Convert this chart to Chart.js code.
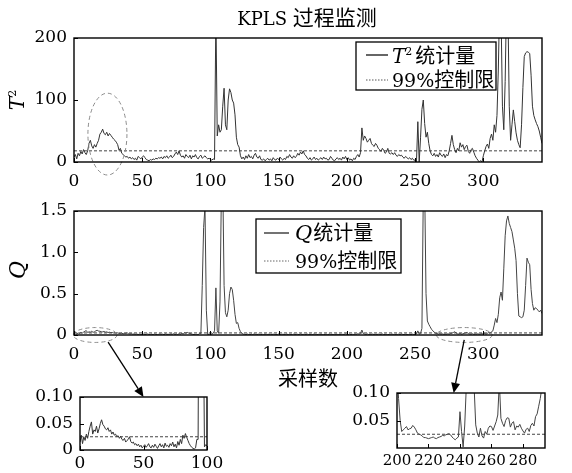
<!DOCTYPE html>
<html><head><meta charset="utf-8">
<script src="https://cdn.jsdelivr.net/npm/chart.js@4.4.1/dist/chart.umd.min.js"></script>
<style>
html,body{margin:0;padding:0;background:#fff;}
#wrap{position:relative;width:572px;height:473px;overflow:hidden;background:#fff;}
#wrap canvas{position:absolute;left:0;top:0;}
</style></head><body>
<div id="wrap">
<canvas id="cT" width="572" height="473"></canvas>
<canvas id="cQ" width="572" height="473"></canvas>
<canvas id="cA" width="572" height="473"></canvas>
<canvas id="cB" width="572" height="473"></canvas>
<canvas id="cO" width="572" height="473"></canvas>
</div>
<script>
// ---------------- data ----------------
const tSquared = [
  8, 12, 5, 14, 10, 17, 13, 20, 15, 12,
  18, 30, 35, 26, 22, 28, 24, 30, 35, 45,
  48, 53, 46, 44, 48, 42, 46, 43, 40, 37,
  35, 32, 28, 19, 22, 14, 12, 10, 8, 9,
  6, 8, 5, 7, 4, 6, 3, 9, 7, 5,
  8, 10, 7, 4, 3, 2, 4, 3, 5, 4,
  6, 5, 7, 6, 8, 5, 9, 7, 10, 6,
  8, 11, 7, 9, 13, 16, 12, 18, 11, 8,
  10, 6, 12, 9, 7, 11, 5, 10, 8, 12,
  7, 5, 9, 11, 6, 8, 10, 7, 5, 6,
  4, 3, 5, 4, 240, 42, 60, 48, 52, 90,
  119, 60, 52, 100, 118, 112, 100, 95, 76, 40,
  28, 24, 10, 5, 8, 4, 10, 6, 12, 7,
  9, 5, 11, 14, 8, 6, 10, 4, 3, 5,
  2, 4, 6, 3, 5, 2, 7, 4, 3, 6,
  4, 8, 5, 3, 6, 4, 9, 7, 12, 8,
  6, 10, 7, 9, 14, 11, 16, 13, 18, 12,
  10, 6, 4, 7, 3, 5, 8, 4, 6, 3,
  5, 7, 4, 8, 5, 6, 3, 4, 9, 6,
  3, 2, 5, 7, 4, 6, 3, 8, 5, 9,
  4, 7, 3, 5, 2, 6, 4, 9, 12, 8,
  15, 55, 35, 42, 38, 32, 35, 38, 30, 27,
  25, 30, 27, 22, 20, 17, 22, 19, 14, 16,
  22, 14, 13, 15, 12, 15, 11, 9, 12, 10,
  11, 8, 6, 9, 7, 5, 7, 4, 6, 3,
  3, 0, 65, 0, 40, 85, 100, 62, 40, 48,
  30, 18, 12, 10, 14, 9, 12, 8, 15, 11,
  9, 13, 7, 12, 10, 18, 30, 43, 28, 20,
  15, 22, 18, 31, 24, 28, 20, 25, 27, 17,
  14, 20, 22, 16, 10, 6, 3, 0, 2, 0,
  10, 18, 25, 29, 22, 38, 45, 35, 60, 48,
  75, 150, 260, 240, 90, 52, 130, 260, 250, 90,
  35, 60, 84, 65, 47, 35, 28, 23, 60, 120,
  170, 176, 178, 177, 175, 140, 90, 75, 68, 62,
  57, 50, 40, 30
];
const qStat = [
  .015, .028, .012, .025, .018, .030, .022, .035, .045, .053,
  .030, .038, .035, .045, .032, .040, .050, .057, .048, .045,
  .040, .038, .042, .035, .038, .030, .034, .028, .030, .025,
  .027, .022, .026, .020, .018, .022, .015, .018, .020, .025,
  .016, .013, .015, .010, .012, .008, .011, .006, .009, .004,
  .007, .010, .005, .008, .012, .006, .004, .009, .005, .011,
  .007, .003, .008, .012, .006, .010, .004, .013, .007, .009,
  .005, .012, .008, .015, .006, .011, .004, .016, .009, .020,
  .012, .028, .022, .031, .024, .018, .012, .008, .005, .003,
  .002, .004, .020, .020, .600, 1.30, 1.55, .300, .006, .010,
  .008, .010, .020, .050, .570, .050, .020, .400, 1.70, 1.90,
  .600, .270, .220, .300, .500, .580, .550, .420, .250, .140,
  .150, .080, .040, .020, .010, .008, .004, .011, .006, .003,
  .009, .005, .012, .007, .004, .010, .006, .003, .008, .005,
  .011, .004, .007, .009, .003, .006, .010, .005, .008, .004,
  .012, .006, .003, .009, .007, .005, .011, .004, .008, .006,
  .003, .010, .007, .005, .009, .004, .012, .006, .008, .003,
  .007, .010, .005, .009, .004, .006, .011, .007, .003, .008,
  .005, .010, .006, .004, .009, .007, .003, .011, .005, .008,
  .006, .004, .010, .007, .005, .009, .004, .008, .006, .012,
  .007, .005, .010, .004, .008, .006, .011, .007, .015, .010,
  .020, .060, .018, .010, .007, .012, .005, .009, .006, .011,
  .004, .008, .006, .010, .005, .007, .012, .004, .009, .006,
  .003, .008, .005, .011, .007, .004, .009, .006, .010, .005,
  .012, .007, .004, .009, .006, .003, .008, .005, .010, .006,
  .004, .012, .050, .010, .020, .080, 1.70, 1.80, .500, .170,
  .130, .100, .070, .050, .035, .020, .018, .012, .015, .010,
  .013, .008, .011, .009, .014, .010, .018, .022, .030, .040,
  .025, .015, .012, .018, .010, .014, .020, .025, .030, .018,
  .012, .010, .015, .008, .012, .010, .014, .009, .012, .015,
  .010, .020, .010, .020, .030, .020, .040, .050, .120, .200,
  .150, .250, .450, .520, .420, .800, 1.20, 1.38, 1.44, 1.35,
  1.30, 1.25, 1.15, 1.05, .900, .500, .230, .220, .210, .220,
  .300, .600, .930, .880, .850, .550, .380, .300, .330, .320,
  .300, .280, .300, .260
];
// detail view of Q shown in the right-hand inset (samples 200..294)
const qDetailStart = 200;
const qDetail = [
  .140, .090, .050, .030, .033, .036, .039, .033, .035, .036,
  .041, .038, .033, .027, .025, .024, .022, .019, .019, .018,
  .017, .018, .019, .020, .018, .017, .019, .020, .021, .023,
  .022, .024, .025, .026, .024, .020, .017, .015, .018, .020,
  .066, .030, .002, .040, .110, .160, .200, .180, .150, .110,
  .042, .027, .020, .036, .022, .018, .030, .025, .036, .040,
  .039, .032, .040, .048, .060, .120, .054, .045, .039, .050,
  .055, .054, .038, .045, .048, .033, .040, .038, .043, .036,
  .031, .027, .034, .036, .030, .041, .045, .040, .057, .062,
  .076, .090, .110, .140, .160
];
const t2Limit = 18;
const qLimit = 0.025;

const mainXTicks = [0, 50, 100, 150, 200, 250, 300];
const t2YTicks = [0, 100, 200];
const qYTicks = [0, 0.5, 1.0, 1.5];
const insetAXTicks = [0, 50, 100];
const insetAYTicks = [0, 0.05, 0.10];
const insetBXTicks = [200, 220, 240, 260, 280];
const insetBYTicks = [0.05, 0.10];

const chartTitle = ['KPLS', '过程监测'];
const xAxisTitle = '采样数';
const statName = '统计量';
const limitName = ['99%', '控制限'];

// ---------------- helpers ----------------
const SERIF = '"DejaVu Serif", "Liberation Serif", serif';
const CJK = '"Noto Sans CJK SC", "Noto Sans", sans-serif';
Chart.defaults.font.family = SERIF;
Chart.defaults.font.size = 17;
Chart.defaults.color = '#000';

const toPts = (arr, start) => arr.map((v, i) => ({ x: start + i, y: v }));

function rich(ctx, parts, x, y, align) {
  let w = 0;
  parts.forEach(p => { ctx.font = p.f; w += ctx.measureText(p.t).width + (p.dx || 0); });
  let cx = align === 'center' ? x - w / 2 : x;
  ctx.textBaseline = 'alphabetic';
  ctx.textAlign = 'left';
  parts.forEach(p => {
    ctx.font = p.f; cx += (p.dx || 0);
    ctx.fillText(p.t, cx, y + (p.dy || 0));
    cx += ctx.measureText(p.t).width;
  });
}

const decor = {
  id: 'decor',
  afterDatasetsDraw(chart, args, opts) {
    const ctx = chart.ctx, a = chart.chartArea;
    const xs = chart.scales.x, ys = chart.scales.y;
    ctx.save();
    (opts.ellipses || []).forEach(e => {
      const cx = xs.getPixelForValue(e.cx), cy = ys.getPixelForValue(e.cy);
      const rx = Math.abs(xs.getPixelForValue(e.cx + e.rx) - cx);
      const ry = Math.abs(ys.getPixelForValue(e.cy + e.ry) - cy);
      ctx.beginPath(); ctx.setLineDash([4, 3]); ctx.strokeStyle = '#8c8c8c'; ctx.lineWidth = 1;
      ctx.ellipse(cx, cy, rx, ry, 0, 0, Math.PI * 2); ctx.stroke();
    });
    ctx.setLineDash([]);
    ctx.strokeStyle = '#000'; ctx.lineWidth = 1.4;
    ctx.strokeRect(a.left, a.top, a.right - a.left, a.bottom - a.top);
    ctx.lineWidth = 1;
    xs.ticks.forEach(t => {
      const p = Math.round(xs.getPixelForValue(t.value)) + 0.5;
      ctx.beginPath(); ctx.moveTo(p, a.bottom); ctx.lineTo(p, a.bottom - 4); ctx.stroke();
    });
    ys.ticks.forEach(t => {
      const p = Math.round(ys.getPixelForValue(t.value)) + 0.5;
      ctx.beginPath(); ctx.moveTo(a.left, p); ctx.lineTo(a.left + 4, p); ctx.stroke();
    });
    const L = opts.legend;
    if (L) {
      ctx.fillStyle = '#fff';
      ctx.fillRect(L.x, L.y, L.w, L.h);
      ctx.strokeStyle = '#000'; ctx.lineWidth = 1.3;
      ctx.strokeRect(L.x, L.y, L.w, L.h);
      L.rows.forEach(r => {
        ctx.beginPath(); ctx.strokeStyle = r.color; ctx.lineWidth = r.lw;
        ctx.setLineDash(r.dash || []);
        ctx.moveTo(L.x + L.s0, r.ly); ctx.lineTo(L.x + L.s1, r.ly); ctx.stroke();
        ctx.setLineDash([]);
        ctx.fillStyle = '#000';
        rich(ctx, r.parts, L.x + L.tx, r.ty, 'left');
      });
    }
    ctx.restore();
  }
};

function makeChart(id, cfg) {
  const ds = [
    { data: cfg.pts, borderColor: cfg.color || '#333', borderWidth: 1, pointRadius: 0, tension: 0, fill: false },
    { data: [{ x: cfg.xmin, y: cfg.limit }, { x: cfg.xmax, y: cfg.limit }], borderColor: '#444',
      borderDash: [3, 2], borderWidth: 1, pointRadius: 0, fill: false }
  ];
  return new Chart(document.getElementById(id), {
    type: 'line',
    data: { datasets: ds },
    plugins: [decor],
    options: {
      responsive: false, animation: false, events: [], devicePixelRatio: 1,
      layout: { padding: cfg.pad },
      plugins: { legend: { display: false }, tooltip: { enabled: false }, decor: cfg.decor || {} },
      scales: {
        x: {
          type: 'linear', min: cfg.xmin, max: cfg.xmax,
          afterBuildTicks: s => { s.ticks = cfg.xticks.map(v => ({ value: v })); },
          afterFit: s => { s.height = cfg.xh; },
          grid: { display: false, drawTicks: false }, border: { display: false },
          ticks: { padding: cfg.xpad, maxRotation: 0, autoSkip: false, callback: v => String(v),
                   font: { size: cfg.xfs || 17 } }
        },
        y: {
          type: 'linear', min: cfg.ymin, max: cfg.ymax,
          afterBuildTicks: s => { s.ticks = cfg.yticks.map(v => ({ value: v })); },
          afterFit: s => { s.width = cfg.yw; },
          grid: { display: false, drawTicks: false }, border: { display: false },
          ticks: { padding: 7, autoSkip: false, callback: cfg.yfmt }
        }
      }
    }
  });
}

const fT = 'italic 20px ' + SERIF;
const fQ = 'italic 21px ' + SERIF;
const fSup = '11px ' + SERIF;
const fCJK = '20px ' + CJK;
const fPct = '19px ' + SERIF;

const chartT = makeChart('cT', {
  pts: toPts(tSquared, 0), limit: t2Limit, xmin: 0, xmax: 343, ymin: 0, ymax: 200,
  xticks: mainXTicks, yticks: t2YTicks, yfmt: v => String(v),
  pad: { left: 0, right: 30, top: 38, bottom: 281 }, yw: 74, xh: 30, xpad: 9,
  decor: {
    ellipses: [{ cx: 24.5, cy: 45, rx: 14.3, ry: 66 }],
    legend: { x: 356, y: 42, w: 140, h: 48, s0: 10, s1: 32, tx: 36,
      rows: [
        { ly: 55, ty: 63, color: '#333', lw: 1.5, parts: [{ t: 'T', f: fT }, { t: '2', f: fSup, dy: -8 }, { t: statName, f: fCJK, dx: 3 }] },
        { ly: 80, ty: 87, color: '#555', lw: 1, dash: [1.5, 1.5], parts: [{ t: limitName[0], f: fPct }, { t: limitName[1], f: fCJK }] }
      ] }
  }
});

const chartQ = makeChart('cQ', {
  pts: toPts(qStat, 0), limit: qLimit, xmin: 0, xmax: 343, ymin: 0, ymax: 1.5, color: '#444',
  xticks: mainXTicks, yticks: qYTicks, yfmt: v => (v === 0 ? '0' : v.toFixed(1)),
  pad: { left: 0, right: 30, top: 211, bottom: 108 }, yw: 74, xh: 30, xpad: 9,
  decor: {
    ellipses: [{ cx: 15.5, cy: 0, rx: 16, ry: 0.09 }, { cx: 286, cy: 0, rx: 20.5, ry: 0.09 }],
    legend: { x: 256, y: 219, w: 145, h: 54, s0: 8, s1: 33, tx: 39,
      rows: [
        { ly: 233, ty: 240, color: '#444', lw: 1.5, parts: [{ t: 'Q', f: fQ }, { t: statName, f: fCJK, dx: 1 }] },
        { ly: 261, ty: 268, color: '#666', lw: 1, dash: [1.5, 1.5], parts: [{ t: limitName[0], f: fPct }, { t: limitName[1], f: fCJK }] }
      ] }
  }
});

const chartA = makeChart('cA', {
  pts: toPts(qStat, 0), limit: qLimit, xmin: 0, xmax: 100, ymin: 0, ymax: 0.10, color: '#333',
  xticks: insetAXTicks, yticks: insetAYTicks, yfmt: v => (v === 0 ? '0' : v.toFixed(2)),
  pad: { left: 6, right: 365, top: 397, bottom: 3 }, yw: 74, xh: 20, xpad: 3
});

const chartB = makeChart('cB', {
  pts: toPts(qDetail, qDetailStart), limit: qLimit, xmin: 200, xmax: 294, ymin: 0, ymax: 0.10, color: '#444',
  xticks: insetBXTicks, yticks: insetBYTicks, yfmt: v => v.toFixed(2),
  pad: { left: 337, right: 27, top: 393, bottom: 5 }, yw: 60, xh: 20, xpad: 4, xfs: 15
});

// ---------------- overlay: titles and arrows ----------------
(function () {
  const ctx = document.getElementById('cO').getContext('2d');
  ctx.fillStyle = '#000';
  rich(ctx, [{ t: chartTitle[0] + ' ', f: '18px ' + SERIF }, { t: chartTitle[1], f: '21px ' + CJK }], 307, 25, 'center');
  rich(ctx, [{ t: xAxisTitle, f: '20px ' + CJK }], 308, 386, 'center');

  ctx.save(); ctx.translate(24, 100); ctx.rotate(-Math.PI / 2);
  rich(ctx, [{ t: 'T', f: fT }, { t: '2', f: fSup, dy: -8 }], 0, 0, 'center');
  ctx.restore();
  ctx.save(); ctx.translate(25, 270); ctx.rotate(-Math.PI / 2);
  rich(ctx, [{ t: 'Q', f: 'italic 22px ' + SERIF }], 0, 0, 'center');
  ctx.restore();

  function arrow(x0, y0, x1, y1) {
    const ang = Math.atan2(y1 - y0, x1 - x0), L = 10, W = 4.5;
    const bx = x1 - L * Math.cos(ang), by = y1 - L * Math.sin(ang);
    ctx.strokeStyle = '#000'; ctx.lineWidth = 1.3;
    ctx.beginPath(); ctx.moveTo(x0, y0); ctx.lineTo(bx, by); ctx.stroke();
    ctx.beginPath(); ctx.moveTo(x1, y1);
    ctx.lineTo(bx + W * Math.sin(ang), by - W * Math.cos(ang));
    ctx.lineTo(bx - W * Math.sin(ang), by + W * Math.cos(ang));
    ctx.closePath(); ctx.fillStyle = '#000'; ctx.fill();
  }
  const qx = chartQ.scales.x, qy = chartQ.scales.y;
  const ax = chartA.scales.x, ay = chartA.scales.y;
  const bx = chartB.scales.x, by = chartB.scales.y;
  arrow(qx.getPixelForValue(25), qy.getPixelForValue(-0.085), ax.getPixelForValue(50), ay.getPixelForValue(0.10));
  arrow(qx.getPixelForValue(286), qy.getPixelForValue(-0.06), bx.getPixelForValue(236), by.getPixelForValue(0.10));
})();
</script>
</body></html>
